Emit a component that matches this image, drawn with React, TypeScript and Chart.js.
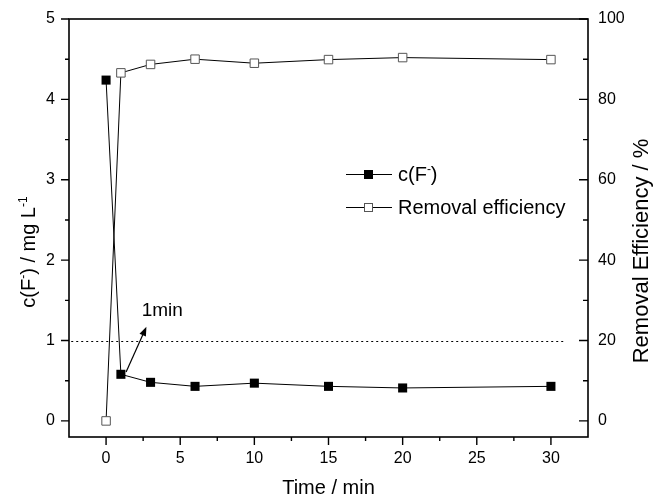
import React, { useEffect, useRef } from "react";
import { Chart, registerables } from "chart.js";

Chart.register(...registerables);

// ---- data ----
const times = [0, 1, 3, 6, 10, 15, 20, 30];
const concentration = [4.24, 0.58, 0.48, 0.43, 0.47, 0.43, 0.41, 0.43];
const removalEfficiency = [0, 86.6, 88.7, 90.0, 89.0, 89.9, 90.4, 89.9];

const xTicks = [0, 5, 10, 15, 20, 25, 30];
const xMinorTicks = [2.5, 7.5, 12.5, 17.5, 22.5, 27.5];
const yTicks = [0, 1, 2, 3, 4, 5];
const yMinorTicks = [0.5, 1.5, 2.5, 3.5, 4.5];
const y1Ticks = [0, 20, 40, 60, 80, 100];
const y1MinorTicks = [10, 30, 50, 70, 90];

const thresholdValue = 1;
const thresholdRange = [-2.35, 30.9];

const annotationText = "1min";
const annotationTextPos = { x: 2.4, y: 1.3 };
const arrowFrom = { x: 1.35, y: 0.61 };
const arrowTo = { x: 2.72, y: 1.17 };

const FONT = '"Liberation Sans", Arial, Helvetica, sans-serif';

type Part = { text: string; sup?: boolean };

function drawRich(ctx: CanvasRenderingContext2D, parts: Part[], x: number, y: number, size: number, align: "left" | "center") {
  const big = `${size}px ${FONT}`;
  const small = `${Math.round(size * 0.62)}px ${FONT}`;
  let total = 0;
  for (const p of parts) {
    ctx.font = p.sup ? small : big;
    total += ctx.measureText(p.text).width;
  }
  let cx = align === "center" ? x - total / 2 : x;
  ctx.textAlign = "left";
  ctx.textBaseline = "alphabetic";
  for (const p of parts) {
    ctx.font = p.sup ? small : big;
    ctx.fillText(p.text, cx, p.sup ? y - size * 0.42 : y);
    cx += ctx.measureText(p.text).width;
  }
}

const decor = {
  id: "decor",
  beforeDatasetsDraw(chart: any) {
    const { ctx, scales } = chart;
    const x = scales.x;
    const y = scales.y;
    ctx.save();
    ctx.strokeStyle = "#000";
    ctx.lineWidth = 1;
    ctx.setLineDash([2, 3]);
    const py = Math.round(y.getPixelForValue(thresholdValue)) + 0.5;
    ctx.beginPath();
    ctx.moveTo(x.getPixelForValue(thresholdRange[0]), py);
    ctx.lineTo(x.getPixelForValue(thresholdRange[1]), py);
    ctx.stroke();
    ctx.restore();
  },
  afterDraw(chart: any) {
    const { ctx, chartArea, scales } = chart;
    const x = scales.x;
    const y = scales.y;
    const y1 = scales.y1;
    const { left, right, top, bottom } = chartArea;
    ctx.save();
    ctx.strokeStyle = "#000";
    ctx.fillStyle = "#000";
    ctx.lineWidth = 1.6;
    ctx.setLineDash([]);
    ctx.strokeRect(left, top, right - left, bottom - top);

    // ticks
    ctx.lineWidth = 1.4;
    ctx.beginPath();
    for (const v of xTicks) {
      const px = x.getPixelForValue(v);
      ctx.moveTo(px, bottom);
      ctx.lineTo(px, bottom + 8);
    }
    for (const v of xMinorTicks) {
      const px = x.getPixelForValue(v);
      ctx.moveTo(px, bottom);
      ctx.lineTo(px, bottom + 4);
    }
    for (const v of yTicks) {
      const py = y.getPixelForValue(v);
      ctx.moveTo(left, py);
      ctx.lineTo(left - 8, py);
    }
    for (const v of yMinorTicks) {
      const py = y.getPixelForValue(v);
      ctx.moveTo(left, py);
      ctx.lineTo(left - 4, py);
    }
    for (const v of y1Ticks) {
      const py = y1.getPixelForValue(v);
      ctx.moveTo(right, py);
      ctx.lineTo(right - 9, py);
    }
    for (const v of y1MinorTicks) {
      const py = y1.getPixelForValue(v);
      ctx.moveTo(right, py);
      ctx.lineTo(right - 5, py);
    }
    ctx.stroke();

    // tick labels
    ctx.font = `16px ${FONT}`;
    ctx.textBaseline = "middle";
    ctx.textAlign = "center";
    for (const v of xTicks) ctx.fillText(String(v), x.getPixelForValue(v), bottom + 22);
    ctx.textAlign = "right";
    for (const v of yTicks) ctx.fillText(String(v), left - 14, y.getPixelForValue(v));
    ctx.textAlign = "left";
    for (const v of y1Ticks) ctx.fillText(String(v), right + 10, y1.getPixelForValue(v));

    // axis titles
    ctx.font = `20px ${FONT}`;
    ctx.textAlign = "center";
    ctx.textBaseline = "alphabetic";
    ctx.fillText("Time / min", (left + right) / 2, 494);

    ctx.save();
    ctx.translate(35, 252);
    ctx.rotate(-Math.PI / 2);
    drawRich(ctx, [{ text: "c(F" }, { text: "-", sup: true }, { text: ") / mg L" }, { text: "-1", sup: true }], 0, 0, 20, "center");
    ctx.restore();

    ctx.save();
    ctx.translate(648, 251);
    ctx.rotate(-Math.PI / 2);
    ctx.font = `22px ${FONT}`;
    ctx.textAlign = "center";
    ctx.fillText("Removal Efficiency / %", 0, 0);
    ctx.restore();

    // legend
    const rows = [
      { y: 174, filled: true, parts: [{ text: "c(F" }, { text: "-", sup: true }, { text: ")" }] as Part[] },
      { y: 207, filled: false, parts: [{ text: "Removal efficiency" }] as Part[] },
    ];
    for (const r of rows) {
      ctx.lineWidth = 1;
      ctx.strokeStyle = "#000";
      ctx.beginPath();
      ctx.moveTo(346, r.y + 0.5);
      ctx.lineTo(392, r.y + 0.5);
      ctx.stroke();
      if (r.filled) {
        ctx.fillStyle = "#000";
        ctx.fillRect(364, r.y - 4, 9, 9);
      } else {
        ctx.fillStyle = "#fff";
        ctx.fillRect(364, r.y - 4, 9, 9);
        ctx.strokeStyle = "#555";
        ctx.strokeRect(364.5, r.y - 3.5, 8, 8);
      }
      ctx.fillStyle = "#000";
      drawRich(ctx, r.parts, 398, r.y + 7, 20, "left");
    }

    // annotation
    ctx.font = `19px ${FONT}`;
    ctx.textAlign = "left";
    ctx.textBaseline = "alphabetic";
    ctx.fillText(annotationText, x.getPixelForValue(annotationTextPos.x), y.getPixelForValue(annotationTextPos.y));
    const ax0 = x.getPixelForValue(arrowFrom.x);
    const ay0 = y.getPixelForValue(arrowFrom.y);
    const ax1 = x.getPixelForValue(arrowTo.x);
    const ay1 = y.getPixelForValue(arrowTo.y);
    const ang = Math.atan2(ay1 - ay0, ax1 - ax0);
    ctx.strokeStyle = "#000";
    ctx.lineWidth = 1.2;
    ctx.beginPath();
    ctx.moveTo(ax0, ay0);
    ctx.lineTo(ax1 - 6 * Math.cos(ang), ay1 - 6 * Math.sin(ang));
    ctx.stroke();
    ctx.beginPath();
    ctx.moveTo(ax1, ay1);
    ctx.lineTo(ax1 - 9 * Math.cos(ang) + 3.5 * Math.sin(ang), ay1 - 9 * Math.sin(ang) - 3.5 * Math.cos(ang));
    ctx.lineTo(ax1 - 9 * Math.cos(ang) - 3.5 * Math.sin(ang), ay1 - 9 * Math.sin(ang) + 3.5 * Math.cos(ang));
    ctx.closePath();
    ctx.fill();
    ctx.restore();
  },
};

export default function App() {
  const ref = useRef<HTMLCanvasElement | null>(null);
  useEffect(() => {
    if (!ref.current) return;
    const chart = new Chart(ref.current, {
      type: "line",
      data: {
        datasets: [
          {
            label: "c(F-)",
            data: times.map((t, i) => ({ x: t, y: concentration[i] })),
            yAxisID: "y",
            borderColor: "#000",
            borderWidth: 1,
            pointStyle: "rect",
            pointRadius: 6.4,
            pointBackgroundColor: "#000",
            pointBorderColor: "#000",
            pointBorderWidth: 0,
            tension: 0,
            fill: false,
          },
          {
            label: "Removal efficiency",
            data: times.map((t, i) => ({ x: t, y: removalEfficiency[i] })),
            yAxisID: "y1",
            borderColor: "#000",
            borderWidth: 1,
            pointStyle: "rect",
            pointRadius: 6,
            pointBackgroundColor: "#fff",
            pointBorderColor: "#555",
            pointBorderWidth: 1,
            tension: 0,
            fill: false,
          },
        ],
      },
      options: {
        animation: false,
        responsive: true,
        maintainAspectRatio: false,
        layout: { padding: { top: 19, left: 0, right: 0, bottom: 0 } },
        plugins: { legend: { display: false }, tooltip: { enabled: false }, title: { display: false } },
        events: [],
        scales: {
          x: {
            type: "linear",
            min: -2.5,
            max: 32.5,
            grid: { display: false },
            border: { display: false },
            ticks: { display: false },
            afterFit: (s: any) => { s.height = 61; },
          },
          y: {
            type: "linear",
            position: "left",
            min: -0.2,
            max: 5,
            grid: { display: false },
            border: { display: false },
            ticks: { display: false },
            afterFit: (s: any) => { s.width = 69; },
          },
          y1: {
            type: "linear",
            position: "right",
            min: -4,
            max: 100,
            grid: { display: false },
            border: { display: false },
            ticks: { display: false },
            afterFit: (s: any) => { s.width = 66; },
          },
        },
      },
      plugins: [decor],
    } as any);
    return () => chart.destroy();
  }, []);
  return (
    <div style={{ position: "fixed", left: 0, top: 0, width: 654, height: 498, background: "#fff" }}>
      <canvas ref={ref} />
    </div>
  );
}
